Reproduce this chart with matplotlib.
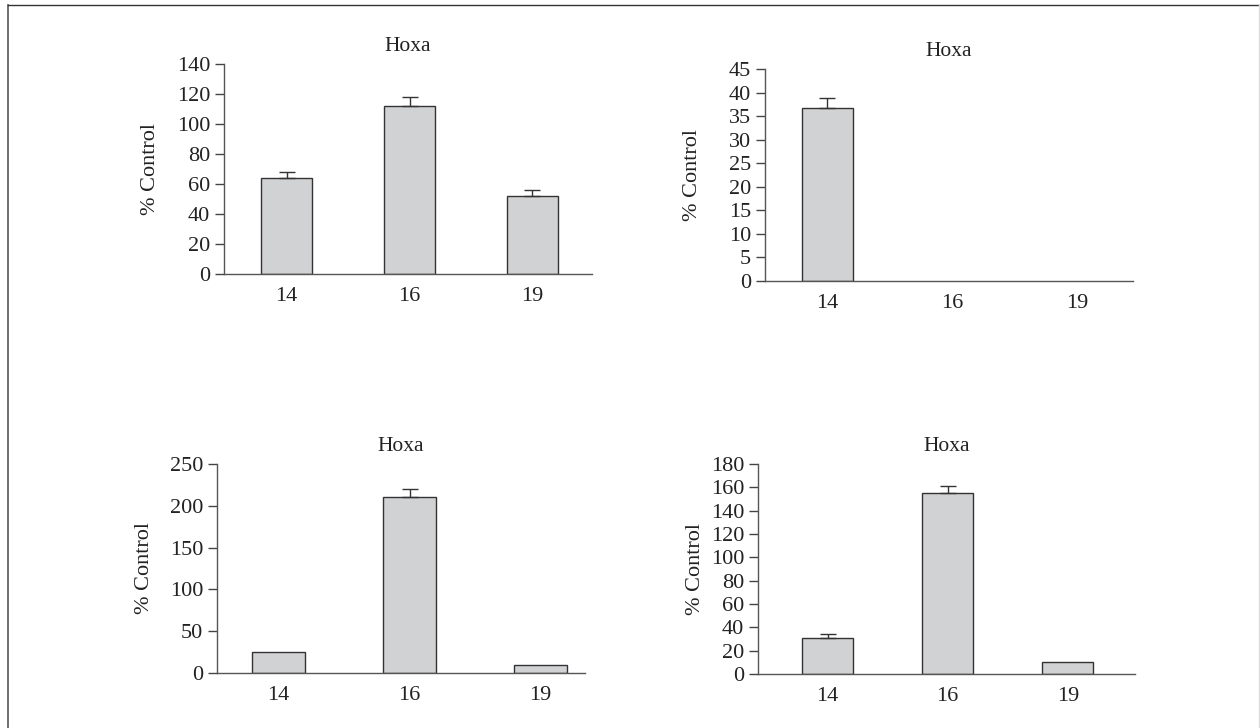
import numpy as np
import matplotlib
matplotlib.use("Agg")
import matplotlib.pyplot as plt
from matplotlib.lines import Line2D

plt.rcParams['font.family'] = ['Liberation Serif', 'DejaVu Serif']

# data
categories = ["14", "16", "19"]
title = "Hoxa"
ylabel = "% Control"

tl_vals = [64, 112, 52]
tl_err = [4, 6, 4]
tr_vals = [36.7, 0, 0]
tr_err = [2.2, 0, 0]
bl_vals = [25, 211, 9]
bl_err = [0, 9, 0]
br_vals = [30.5, 155.5, 10]
br_err = [4, 6, 0]

tl_ticks = list(range(0, 141, 20))
tr_ticks = list(range(0, 46, 5))
bl_ticks = list(range(0, 251, 50))
br_ticks = list(range(0, 181, 20))

W, H = 1260, 728
fig = plt.figure(figsize=(12.6, 7.28), dpi=100)

def px_axes(left, right, top, bottom):
    return fig.add_axes([left / W, 1 - bottom / H, (right - left) / W, (bottom - top) / H])

def panel(ax, vals, err, ticks, xlim, width, label_x):
    x = np.arange(len(categories))
    vals = np.array(vals, dtype=float)
    err = np.array(err, dtype=float)
    lw = [1.0 if v > 0 else 0 for v in vals]
    ax.bar(x, vals, width=width, color="#d1d2d4", edgecolor="#333333", linewidth=lw, zorder=2)
    m = err > 0
    ax.errorbar(x[m], vals[m], yerr=[np.zeros(m.sum()), err[m]], fmt="none", ecolor="#333333",
                elinewidth=1.0, capsize=5.5, capthick=1.0, zorder=3)
    ax.set_xlim(*xlim)
    ax.set_ylim(ticks[0], ticks[-1])
    ax.set_yticks(ticks)
    ax.set_xticks(x)
    ax.set_xticklabels(categories)
    for s in ["top", "right"]:
        ax.spines[s].set_visible(False)
    for s in ["left", "bottom"]:
        ax.spines[s].set_color("#555555")
        ax.spines[s].set_linewidth(1.0)
    ax.tick_params(axis="y", length=6.5, width=1.0, color="#444444", pad=3.5,
                   labelsize=16, labelcolor="#222222")
    ax.tick_params(axis="x", length=0, pad=9.5, labelsize=16, labelcolor="#222222")
    ax.set_ylabel(ylabel, fontsize=16, color="#222222", va="center")
    ax.yaxis.set_label_coords(label_x, 0.5)
    ax.annotate(title, xy=(0.5, 1), xycoords="axes fraction", xytext=(0, 12.5),
                textcoords="offset points", ha="center", va="center",
                fontsize=15.5, color="#222222")

ax1 = px_axes(224, 592, 64, 274)
panel(ax1, tl_vals, tl_err, tl_ticks, (-0.51, 2.485), 0.416, -0.199)

ax2 = px_axes(765, 1133, 69, 281)
panel(ax2, tr_vals, tr_err, tr_ticks, (-0.50, 2.45), 0.41, -0.198)

ax3 = px_axes(217, 585, 464, 673)
panel(ax3, bl_vals, bl_err, bl_ticks, (-0.47, 2.34), 0.40, -0.196)

ax4 = px_axes(758, 1135, 464, 674)
panel(ax4, br_vals, br_err, br_ticks, (-0.58, 2.56), 0.425, -0.167)

# outer frame
fig.add_artist(Line2D([8 / W, 8 / W], [0, 1 - 5 / H], color="#555555", lw=1.2))
fig.add_artist(Line2D([8 / W, 1259 / W], [1 - 5 / H, 1 - 5 / H], color="#333333", lw=1.0))
fig.add_artist(Line2D([1258.5 / W, 1258.5 / W], [0, 1 - 5 / H], color="#dddddd", lw=1.0))

fig.savefig("out.png", dpi=100)
